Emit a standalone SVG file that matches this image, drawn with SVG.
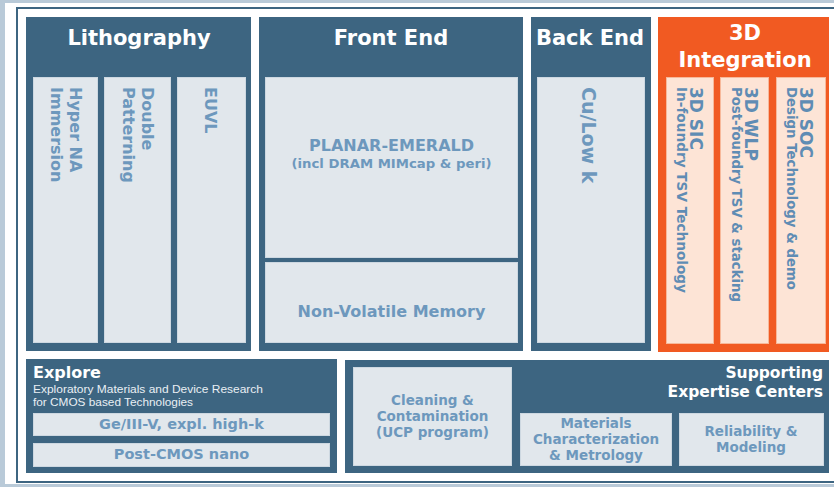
<svg xmlns="http://www.w3.org/2000/svg" width="834" height="487" viewBox="0 0 834 487">
<style>
.dk{fill:#3d6581}
.lt{fill:#e1e7ec;stroke:#cdd8e1;stroke-width:1}
.or{fill:#f15a22}
.pc{fill:#fde4d6;stroke:#f7b89a;stroke-width:1}
.h{font-family:"DejaVu Sans",Verdana,sans-serif;font-weight:bold;fill:#ffffff}
.b{font-family:"DejaVu Sans",Verdana,sans-serif;font-weight:bold;fill:#6d98bd}
.o{font-family:"DejaVu Sans",Verdana,sans-serif;font-weight:bold;fill:#5f8cb4}
.s{font-family:"Liberation Sans",Arial,sans-serif;fill:#e9eff4}
.c{text-anchor:middle}
</style>
<rect x="0" y="0" width="834" height="487" fill="#b9cad8"/>
<rect x="5" y="3" width="829" height="481" fill="#ffffff"/>
<rect x="17" y="8" width="830" height="474" fill="none" stroke="#3d6581" stroke-width="2"/>

<g id="lithography">
<rect class="dk" x="26" y="17" width="225" height="334"/>
<text class="h c" x="139" y="45" font-size="21">Lithography</text>
<rect class="lt" x="33.5" y="77.5" width="64" height="265"/>
<rect class="lt" x="104.5" y="77.5" width="66" height="265"/>
<rect class="lt" x="177.5" y="77.5" width="68" height="265"/>
<text class="b" font-size="16" transform="translate(70,87) rotate(90)">Hyper NA</text>
<text class="b" font-size="16" transform="translate(51,87) rotate(90)">Immersion</text>
<text class="b" font-size="16" transform="translate(142,87) rotate(90)">Double</text>
<text class="b" font-size="16" transform="translate(123,87) rotate(90)">Patterning</text>
<text class="b" font-size="16" transform="translate(205,87) rotate(90)">EUVL</text>
</g>

<g id="front-end">
<rect class="dk" x="259" y="17" width="264" height="334"/>
<text class="h c" x="391" y="45" font-size="21">Front End</text>
<rect class="lt" x="265.5" y="77.5" width="252" height="180"/>
<rect class="lt" x="265.5" y="262.5" width="252" height="80"/>
<text class="b c" x="391.5" y="151" font-size="15" textLength="165" lengthAdjust="spacingAndGlyphs">PLANAR-EMERALD</text>
<text class="b c" x="391.5" y="168" font-size="13" textLength="200" lengthAdjust="spacingAndGlyphs">(incl DRAM MIMcap &amp; peri)</text>
<text class="b c" x="391.5" y="317" font-size="16">Non-Volatile Memory</text>
</g>

<g id="back-end">
<rect class="dk" x="531" y="17" width="120" height="334"/>
<text class="h c" x="590" y="45" font-size="21">Back End</text>
<rect class="lt" x="537.5" y="77.5" width="107" height="265"/>
<text class="b" font-size="19" transform="translate(582,87) rotate(90)">Cu/Low k</text>
</g>

<g id="integration-3d">
<rect class="or" x="658" y="17" width="171" height="335"/>
<text class="h c" x="745" y="40" font-size="21">3D</text>
<text class="h c" x="745" y="67" font-size="21">Integration</text>
<rect class="pc" x="666.5" y="77.5" width="47" height="266"/>
<rect class="pc" x="720.5" y="77.5" width="48" height="266"/>
<rect class="pc" x="776.5" y="77.5" width="49" height="266"/>
<text class="o" font-size="17" transform="translate(690,87) rotate(90)">3D SIC</text>
<text class="o" font-size="13.5" textLength="206" lengthAdjust="spacingAndGlyphs" transform="translate(677,87) rotate(90)">In-foundry TSV Technology</text>
<text class="o" font-size="17" transform="translate(745,87) rotate(90)">3D WLP</text>
<text class="o" font-size="13.5" textLength="215" lengthAdjust="spacingAndGlyphs" transform="translate(732,87) rotate(90)">Post-foundry TSV &amp; stacking</text>
<text class="o" font-size="17" transform="translate(800,87) rotate(90)">3D SOC</text>
<text class="o" font-size="13.5" textLength="203" lengthAdjust="spacingAndGlyphs" transform="translate(787,87) rotate(90)">Design Technology &amp; demo</text>
</g>

<g id="explore">
<rect class="dk" x="26" y="359" width="311" height="114"/>
<text class="h" x="33" y="378" font-size="16">Explore</text>
<text class="s" x="33" y="393" font-size="11" textLength="230" lengthAdjust="spacingAndGlyphs">Exploratory Materials and Device Research</text>
<text class="s" x="33" y="406" font-size="11" textLength="160" lengthAdjust="spacingAndGlyphs">for CMOS based Technologies</text>
<rect class="lt" x="33.5" y="413.5" width="296" height="22"/>
<rect class="lt" x="33.5" y="443.5" width="296" height="23"/>
<text class="b c" x="181.5" y="429" font-size="14.5">Ge/III-V, expl. high-k</text>
<text class="b c" x="181.5" y="459" font-size="14.5">Post-CMOS nano</text>
</g>

<g id="supporting">
<rect class="dk" x="345" y="360" width="484" height="113"/>
<text class="h" x="823" y="378" font-size="15.5" text-anchor="end">Supporting</text>
<text class="h" x="823" y="397" font-size="15.5" text-anchor="end">Expertise Centers</text>
<rect class="lt" x="353.5" y="367.5" width="158" height="98"/>
<text class="b c" x="432.5" y="405" font-size="13.5">Cleaning &amp;</text>
<text class="b c" x="432.5" y="421" font-size="13.5">Contamination</text>
<text class="b c" x="432.5" y="437" font-size="13.5">(UCP program)</text>
<rect class="lt" x="520.5" y="413.5" width="151" height="52"/>
<text class="b c" x="596" y="428" font-size="13.5">Materials</text>
<text class="b c" x="596" y="444" font-size="13.5">Characterization</text>
<text class="b c" x="596" y="460" font-size="13.5">&amp; Metrology</text>
<rect class="lt" x="679.5" y="413.5" width="144" height="52"/>
<text class="b c" x="751" y="436" font-size="13.5">Reliability &amp;</text>
<text class="b c" x="751" y="452" font-size="13.5">Modeling</text>
</g>

<g id="connectors"></g>
</svg>
